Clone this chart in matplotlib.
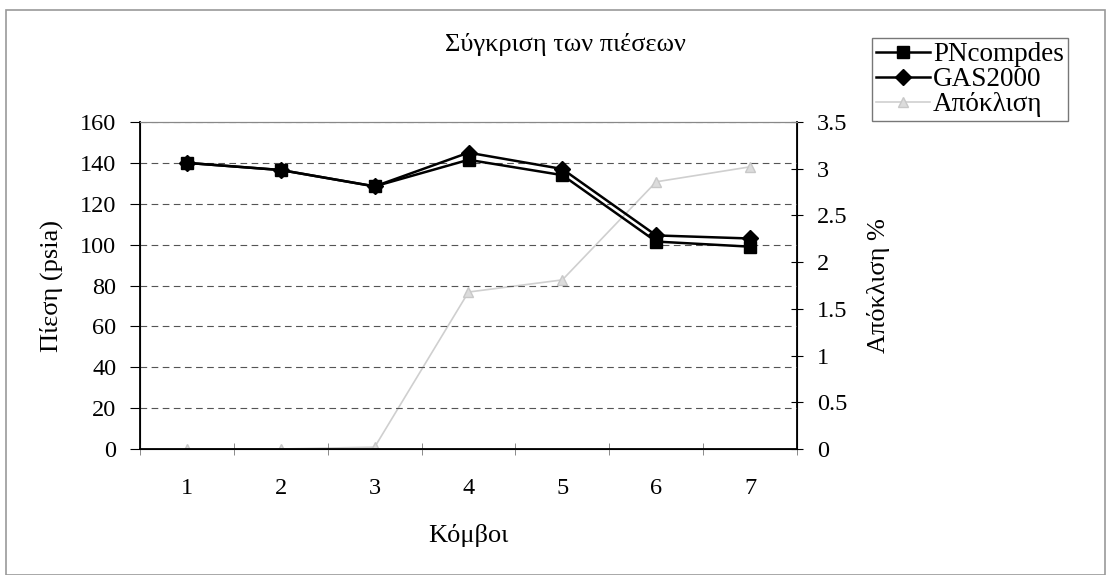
import matplotlib.pyplot as plt
from matplotlib.patches import Rectangle

plt.rcParams['font.family'] = ['Liberation Serif', 'DejaVu Serif']

nodes = [1, 2, 3, 4, 5, 6, 7]
pncompdes = [140, 136.5, 128.5, 141.5, 134, 101.5, 99]
gas2000 = [140, 136.5, 128.5, 145, 137, 104.5, 103]
deviation = [0.0, 0.0, 0.02, 1.68, 1.81, 2.86, 3.02]

fig = plt.figure(figsize=(11.07, 5.75), dpi=100)
ax = fig.add_axes([140 / 1107, 1 - 449 / 575, 657 / 1107, 327 / 575])
ax2 = ax.twinx()

xs = list(range(len(nodes)))
ax2.plot(xs, deviation, color='#cfcfcf', lw=1.2, marker='^', ms=7,
         mfc='#dcdcdc', mec='#c8c8c8', label='Απόκλιση', zorder=1)
ax.plot(xs, pncompdes, color='black', lw=1.8, marker='s', ms=9,
        label='PNcompdes', zorder=3)
ax.plot(xs, gas2000, color='black', lw=1.8, marker='D', ms=8,
        label='GAS2000', zorder=3)
ax.set_zorder(ax2.get_zorder() + 1)
ax.patch.set_visible(False)

ax.set_xlim(-0.5, len(nodes) - 0.5)
ax.set_ylim(0, 160)
ax.set_yticks(range(0, 161, 20))
ax2.set_ylim(0, 3.5)
ax2.set_yticks([0, 0.5, 1, 1.5, 2, 2.5, 3, 3.5])
ax2.set_yticklabels(['0', '0.5', '1', '1.5', '2', '2.5', '3', '3.5'])

ax.set_xticks(xs)
ax.set_xticklabels([str(n) for n in nodes])
ax.set_xticks([x - 0.5 for x in range(len(nodes) + 1)], minor=True)
ax.tick_params(axis='x', which='major', length=0, pad=21, labelsize=17.5)
ax.tick_params(axis='x', which='minor', length=9, direction='inout', color='#777777')
ax.tick_params(axis='y', labelsize=17.5, length=7, direction='out', pad=10)
ax2.tick_params(axis='y', labelsize=17.5, length=9, direction='inout', pad=10)

ax.grid(axis='y', linestyle=(0, (6, 4)), color='#555555', lw=0.8)
for sp in ['left', 'bottom']:
    ax.spines[sp].set_linewidth(1.3)
ax.spines['top'].set_color('#888888')
ax2.spines['right'].set_linewidth(1.3)
ax2.spines['top'].set_color('#888888')

ax.set_ylabel('Πίεση (psia)', fontsize=19, labelpad=12)
ax2.set_ylabel('Απόκλιση %', fontsize=19, labelpad=14)
ax.set_xlabel('Κόμβοι', fontsize=19, labelpad=18)
fig.text(445 / 1107, 1 - 44 / 575, 'Σύγκριση των πιέσεων', fontsize=19,
         ha='left', va='center')

h1, l1 = ax.get_legend_handles_labels()
h2, l2 = ax2.get_legend_handles_labels()
leg = fig.legend(h1 + h2, l1 + l2, loc='upper left',
                 bbox_to_anchor=(872 / 1107, 1 - 38 / 575),
                 fontsize=19.5, frameon=True, fancybox=False, edgecolor='#555555',
                 handlelength=2.0, handletextpad=0.1, labelspacing=0.0,
                 borderpad=0.15, borderaxespad=0)
leg.get_frame().set_linewidth(1.0)

fig.patches.append(Rectangle((0.005, 0.0), 0.993, 0.982, transform=fig.transFigure,
                             fill=False, edgecolor='#999999', lw=1.2))

fig.savefig('out.png', dpi=100)
